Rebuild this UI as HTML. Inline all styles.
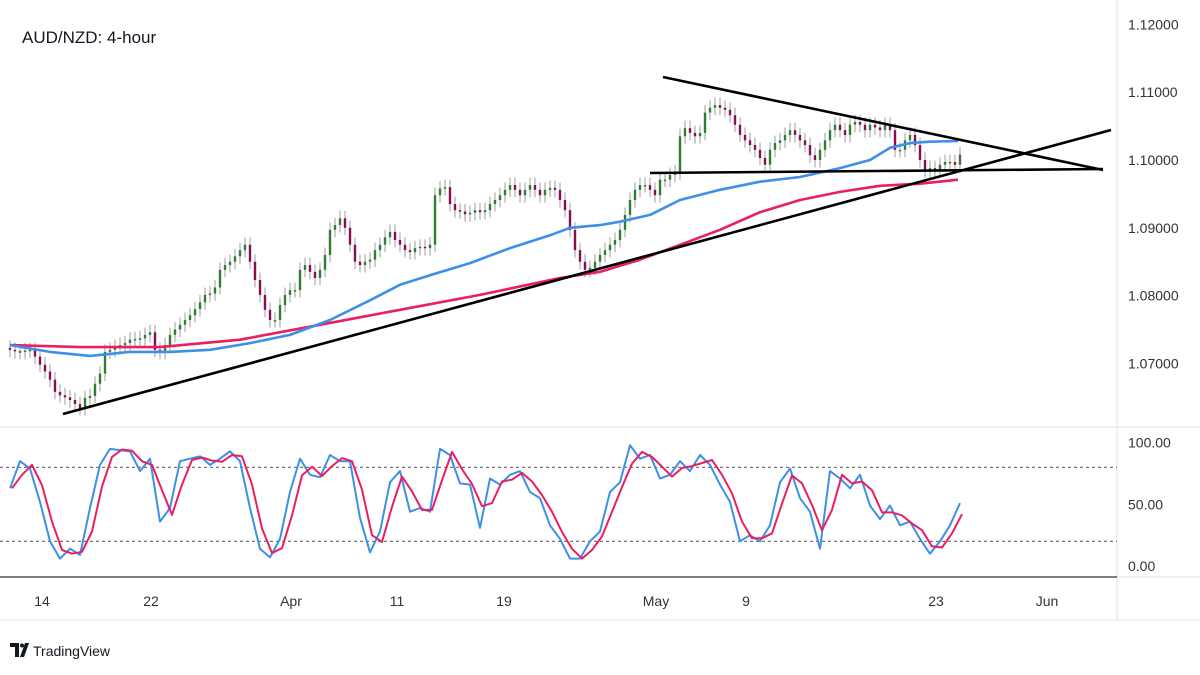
<!DOCTYPE html>
<html><head><meta charset="utf-8"><style>
html,body{margin:0;padding:0;background:#fff;width:1200px;height:675px;overflow:hidden;font-family:"Liberation Sans",sans-serif}
svg text{font-family:"Liberation Sans",sans-serif}
</style></head><body>
<svg id="c" width="1200" height="675" xmlns="http://www.w3.org/2000/svg">
<rect x="0" y="0" width="1200" height="675" fill="#fff"/>
<line x1="1117" y1="0" x2="1117" y2="620" stroke="#e0e3eb"/>
<line x1="0" y1="427" x2="1200" y2="427" stroke="#e0e3eb"/>
<line x1="0" y1="577" x2="1117" y2="577" stroke="#555" stroke-width="1.5"/>
<line x1="1117" y1="577" x2="1200" y2="577" stroke="#e0e3eb"/>
<line x1="0" y1="620" x2="1200" y2="620" stroke="#e0e3eb"/>
<text x="22" y="43" font-size="17" fill="#131722">AUD/NZD: 4-hour</text>
<g id="main"></g>
<g id="osc"></g>
<g id="axes"></g>
<g>
<path d="M10 643h9v14h-4v-10h-5z M20 657l5-14h4l-5 14z" fill="#131722"/>
<circle cx="22" cy="645.5" r="2" fill="#131722"/>
<text x="33" y="656" font-size="14" fill="#131722">TradingView</text>
</g>
</svg>
<script>
const closes=[1.0720,1.0718,1.0717,1.0719,1.0720,1.0710,1.0698,1.0688,1.0676,1.0658,1.0653,1.0650,1.0646,1.0640,1.0634,1.0649,1.0652,1.0670,1.0685,1.0717,1.0720,1.0724,1.0727,1.0730,1.0735,1.0736,1.0737,1.0742,1.0746,1.0720,1.0717,1.0727,1.0742,1.0750,1.0757,1.0764,1.0771,1.0780,1.0790,1.0801,1.0803,1.0812,1.0838,1.0845,1.0850,1.0858,1.0867,1.0875,1.0850,1.0823,1.0801,1.0779,1.0764,1.0764,1.0786,1.0801,1.0808,1.0808,1.0838,1.0845,1.0835,1.0826,1.0838,1.0860,1.0897,1.0904,1.0914,1.0900,1.0875,1.0850,1.0845,1.0850,1.0853,1.0867,1.0875,1.0886,1.0894,1.0882,1.0875,1.0867,1.0864,1.0870,1.0872,1.0870,1.0875,1.0948,1.0958,1.0960,1.0935,1.0926,1.0924,1.0920,1.0922,1.0926,1.0923,1.0926,1.0935,1.0941,1.0948,1.0956,1.0963,1.0956,1.0948,1.0956,1.0963,1.0956,1.0948,1.0956,1.0959,1.0956,1.0941,1.0926,1.0897,1.0867,1.0850,1.0838,1.0841,1.0850,1.0860,1.0867,1.0875,1.0882,1.0897,1.0919,1.0941,1.0956,1.0963,1.0963,1.0956,1.0948,1.0971,1.0971,1.0978,1.0982,1.1035,1.1047,1.1040,1.1035,1.1040,1.1070,1.1077,1.1081,1.1077,1.1074,1.1066,1.1052,1.1037,1.1029,1.1022,1.1015,1.1003,1.0993,1.1015,1.1025,1.1029,1.1037,1.1044,1.1037,1.1029,1.1022,1.1007,1.1000,1.1015,1.1029,1.1044,1.1052,1.1044,1.1037,1.1052,1.1056,1.1052,1.1044,1.1052,1.1048,1.1044,1.1052,1.1044,1.1015,1.1015,1.1029,1.1037,1.1022,1.1000,1.0985,1.0988,1.0985,1.0993,1.0997,1.0997,1.0993,1.1008];
const maFastIdx=[0,8,16,24,32,40,48,56,64,72,78,84,92,100,108,112,118,122,128,134,142,150,158,166,172,176,180,184,189.6];
const maFastVal=[1.0727,1.0717,1.0711,1.0717,1.0717,1.0720,1.0730,1.0742,1.0764,1.0793,1.0816,1.0830,1.0848,1.0870,1.0889,1.0900,1.0904,1.0909,1.0919,1.0941,1.0956,1.0968,1.0975,1.0988,1.1000,1.1018,1.1025,1.1027,1.1028];
const maSlowIdx=[0,14,30,46,62,78,94,110,118,126,134,142,150,158,166,174,182,189.6];
const maSlowVal=[1.0727,1.0724,1.0724,1.0735,1.0757,1.0779,1.0801,1.0826,1.0835,1.0853,1.0875,1.0897,1.0923,1.0941,1.0953,1.0962,1.0965,1.0971];
const stochK=[63,85,79,52,20,6,14,9,47,82,95,94,93,77,87,36,47,85,87,89,82,87,93,85,47,14,7,22,60,87,74,72,90,85,85,39,11,28,68,77,44,47,44,95,90,67,66,31,71,66,74,77,60,55,33,22,6,6,20,28,60,68,98,87,90,71,74,85,77,90,82,66,52,20,25,20,33,68,79,55,44,14,77,71,63,74,49,38,49,33,36,22,10,20,33,51];
const priceTicks=[1.12,1.11,1.10,1.09,1.08,1.07];
const oscTicks=[100,50,0];
const timeLabels=["14","22","Apr","11","19","May","9","23","Jun"];
const timeIdx=[6.4,28.2,56.2,77.4,98.8,129.2,147.2,185.2,207.4];

const NS="http://www.w3.org/2000/svg";
const xI=i=>10+i*5;
const yP=p=>160-(p-1.10)*6780;
const xK=i=>10+i*10;
const yK=v=>566-v*1.233;
function mk(tag,attrs,parent){const e=document.createElementNS(NS,tag);for(const k in attrs)e.setAttribute(k,attrs[k]);parent.appendChild(e);return e;}
const main=document.getElementById('main'),osc=document.getElementById('osc'),axes=document.getElementById('axes');

const tl=[[63,414,1111,130,'ascending-trendline'],[663,77,1103,170,'descending-trendline'],[650,173,1103,169,'horizontal-support-line']];
function poly(idx,val,color,name){
  const pts=idx.map((t,k)=>xI(t).toFixed(1)+','+yP(val[k]).toFixed(1)).join(' ');
  const l=mk('polyline',{points:pts,fill:'none',stroke:color,'stroke-width':2.6,'stroke-linejoin':'round'},main);
  
  
}
closes.forEach((c,i)=>{
  const o=i>0?closes[i-1]:c+0.0003;
  const hi=Math.max(o,c)+0.0011,lo=Math.min(o,c)-0.0011;
  const x=xI(i),up=c>=o;
  const g=mk('g',{},main);
  
  
  mk('line',{x1:x,x2:x,y1:yP(hi),y2:yP(lo),stroke:'#9e9e9e','stroke-width':1},g);
  const y1=yP(Math.max(o,c)),y2=yP(Math.min(o,c));
  mk('rect',{x:x-1.2,y:y1,width:2.4,height:Math.max(1.5,y2-y1),fill:up?'#2e7d32':'#880e4f'},g);
});
poly(maSlowIdx,maSlowVal,'#e91e63','slow-moving-average');
poly(maFastIdx,maFastVal,'#3d8fe8','fast-moving-average');
tl.forEach(t=>{
  const l=mk('line',{x1:t[0],y1:t[1],x2:t[2],y2:t[3],stroke:'#000','stroke-width':2.6},main);
  
  
});

[80,20].forEach(v=>{
  const l=mk('line',{x1:0,x2:1117,y1:yK(v),y2:yK(v),stroke:'#777','stroke-width':1.2,'stroke-dasharray':'3,3'},osc);
  
  
});
const stochD=stochK.map((v,i)=>{const a=stochK.slice(Math.max(0,i-1),i+1);return a.reduce((s,x)=>s+x,0)/a.length;});
function line2(arr,color,name,off){
  const pts=arr.map((v,i)=>(xK(i)+off).toFixed(1)+','+yK(v).toFixed(1)).join(' ');
  const l=mk('polyline',{points:pts,fill:'none',stroke:color,'stroke-width':2,'stroke-linejoin':'round'},osc);
  
  
}
line2(stochK,'#3d8fe8','stoch-k-line',0);
line2(stochD,'#e91e63','stoch-d-line',2);

priceTicks.forEach(p=>{
  const t=mk('text',{x:1128,y:yP(p)+5,'font-size':14,fill:'#333'},axes);
  t.textContent=p.toFixed(5);
  
  
});
oscTicks.forEach(v=>{
  const t=mk('text',{x:1128,y:yK(v)+5,'font-size':14,fill:'#333'},axes);
  t.textContent=v.toFixed(2);
  
  
});
timeLabels.forEach((s,k)=>{
  const t=mk('text',{x:xI(timeIdx[k]),y:606,'font-size':14,fill:'#333','text-anchor':'middle'},axes);
  t.textContent=s;
  
  
});
</script>
</body></html>
